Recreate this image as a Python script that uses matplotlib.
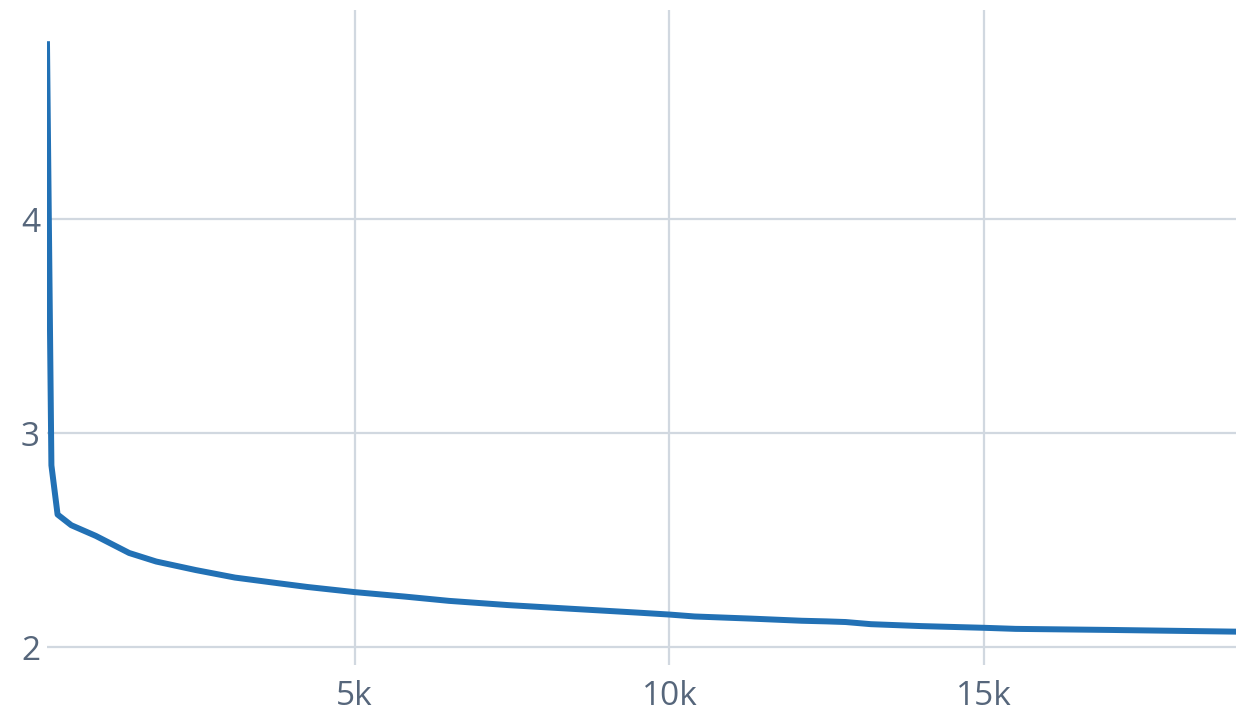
import numpy as np
import matplotlib
matplotlib.use('Agg')
import matplotlib.pyplot as plt

# values
steps = [115, 185, 283, 500, 890, 1420, 1850, 2480, 3100, 3800, 4250, 5000,
         5800, 6500, 7450, 8500, 9500, 10000, 10400, 11300, 12100, 12500,
         12800, 13200, 14000, 15000, 15500, 17000, 19000]
loss = [4.82, 2.85, 2.62, 2.57, 2.52, 2.44, 2.40, 2.36, 2.325, 2.298, 2.281,
        2.257, 2.236, 2.216, 2.196, 2.178, 2.161, 2.152, 2.143, 2.133, 2.123,
        2.120, 2.117, 2.107, 2.098, 2.090, 2.085, 2.080, 2.072]

xticks = [5000, 10000, 15000]
xtick_labels = ['5k', '10k', '15k']
yticks = [2, 3, 4]
ytick_labels = ['2', '3', '4']

plt.rcParams['font.family'] = ['Open Sans', 'DejaVu Sans']

W, H = 1252, 720
fig = plt.figure(figsize=(W / 100, H / 100), dpi=100)
ax = fig.add_axes([47 / W, (H - 665) / H, (1236 - 47) / W, (665 - 10) / H])

ax.plot(steps, loss, color='#2271b5', lw=4.3, solid_joinstyle='round', zorder=3)

ax.set_xlim(steps[0], steps[-1])
ax.set_ylim(1.916, 4.98)

ax.set_xticks(xticks)
ax.set_xticklabels(xtick_labels)
ax.set_yticks(yticks)
ax.set_yticklabels(ytick_labels)

ax.grid(True, color='#d1d8e0', lw=1.6)
ax.set_axisbelow(True)
for s in ax.spines.values():
    s.set_visible(False)
ax.tick_params(length=0, labelsize=24, labelcolor='#56667b')
ax.tick_params(axis='x', pad=11)
ax.tick_params(axis='y', pad=5)

fig.savefig('out.png', dpi=100, facecolor='white')
